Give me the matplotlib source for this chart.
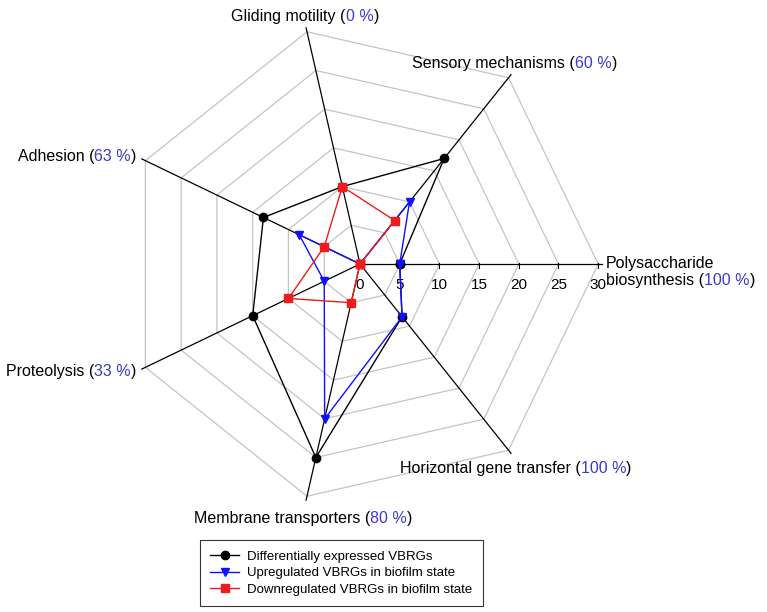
"""
Radar chart of virulence/biofilm related gene (VBRG) categories
"""
import numpy as np
import matplotlib
matplotlib.use('Agg')
import matplotlib.pyplot as plt
from matplotlib.offsetbox import TextArea, HPacker, VPacker, AnnotationBbox

plt.rcParams['font.family'] = ['Liberation Sans', 'DejaVu Sans']

categories = ['Polysaccharide biosynthesis', 'Sensory mechanisms', 'Gliding motility',
              'Adhesion', 'Proteolysis', 'Membrane transporters', 'Horizontal gene transfer']
percent = ['100 %', '60 %', '0 %', '63 %', '33 %', '80 %', '100 %']

diff_expressed = [5, 17, 10, 13.5, 15, 25, 8.5]
upregulated = [5, 10, 0, 8.5, 5, 20, 8.5]
downregulated = [0, 7, 10, 5, 10, 5, 0]

rings = [5, 10, 15, 20, 25, 30]
tick_labels = ['0', '5', '10', '15', '20', '25', '30']

pct_color = '#3a3ac8'

n = len(categories)
angles = np.deg2rad(np.arange(n) * 360.0 / n)


def to_xy(values):
    v = np.asarray(values + values[:1], dtype=float)
    a = np.append(angles, angles[0])
    return v * np.cos(a), v * np.sin(a)


fig = plt.figure(figsize=(7.67, 6.12), dpi=100)
ax = fig.add_axes([0, 0, 1, 1])
ax.set_xlim(-45.34, 51.26)
ax.set_ylim(-43.83, 33.25)
ax.axis('off')

# grid rings
for r in rings:
    gx, gy = to_xy([r] * n)
    ax.plot(gx, gy, color='#c4c4c4', lw=0.9, zorder=1)

# spokes
for a in angles:
    ax.plot([0, 30.5 * np.cos(a)], [0, 30.5 * np.sin(a)], color='black', lw=0.9, zorder=2)

# ticks on the first axis
for t in tick_labels:
    val = float(t)
    if val > 0:
        ax.plot([val, val], [-0.55, 0.1], color='black', lw=0.8, zorder=2)
    ax.text(val, -2.65, t, ha='center', va='center', fontsize=11, zorder=3)

# series
x, y = to_xy(diff_expressed)
ax.plot(x, y, color='black', lw=1.0, marker='o', ms=6, zorder=4,
        label='Differentially expressed VBRGs')
x, y = to_xy(upregulated)
ax.plot(x, y, color='#1010ff', lw=1.0, marker='v', ms=6, zorder=5,
        label='Upregulated VBRGs in biofilm state')
x, y = to_xy(downregulated)
ax.plot(x, y, color='#ee1c1c', lw=1.0, marker='s', ms=5.5, zorder=6,
        label='Downregulated VBRGs in biofilm state')


def label_box(name, pct):
    parts = [TextArea(name + ' (', textprops=dict(fontsize=11.5, color='black')),
             TextArea(pct, textprops=dict(fontsize=11.5, color=pct_color)),
             TextArea(')', textprops=dict(fontsize=11.5, color='black'))]
    return HPacker(children=parts, pad=0, sep=0, align='baseline')


# label positions (x, y, box alignment)
label_pos = [
    (31.0, -1.0, (0, 0.5)),
    (19.5, 25.3, (0.5, 0.5)),
    (-6.9, 31.2, (0.5, 0.5)),
    (-28.2, 13.5, (1, 0.5)),
    (-28.2, -13.6, (1, 0.5)),
    (-7.2, -32.0, (0.5, 0.5)),
    (19.6, -25.8, (0.5, 0.5)),
]

for i, (name, pct) in enumerate(zip(categories, percent)):
    lx, ly, align = label_pos[i]
    if i == 0:
        # two line label, first line slightly indented
        first, second = name.split(' ')
        top = HPacker(children=[TextArea(first, textprops=dict(fontsize=11.5, color='black'))],
                      pad=0, sep=0)
        top.pad = 0
        box = VPacker(children=[top, label_box(second, pct)], pad=0, sep=2, align='left')
    else:
        box = label_box(name, pct)
    ab = AnnotationBbox(box, (lx, ly), xycoords='data', box_alignment=align,
                        frameon=False, pad=0)
    ax.add_artist(ab)

leg = ax.legend(loc='center', bbox_to_anchor=(0.445, 0.0637), bbox_transform=fig.transFigure,
                fontsize=9.5, frameon=True, fancybox=False, edgecolor='black',
                handlelength=2.2, labelspacing=0.32, borderpad=0.8, handletextpad=0.6)
leg.get_frame().set_linewidth(0.8)

plt.savefig('out.png', dpi=100)
